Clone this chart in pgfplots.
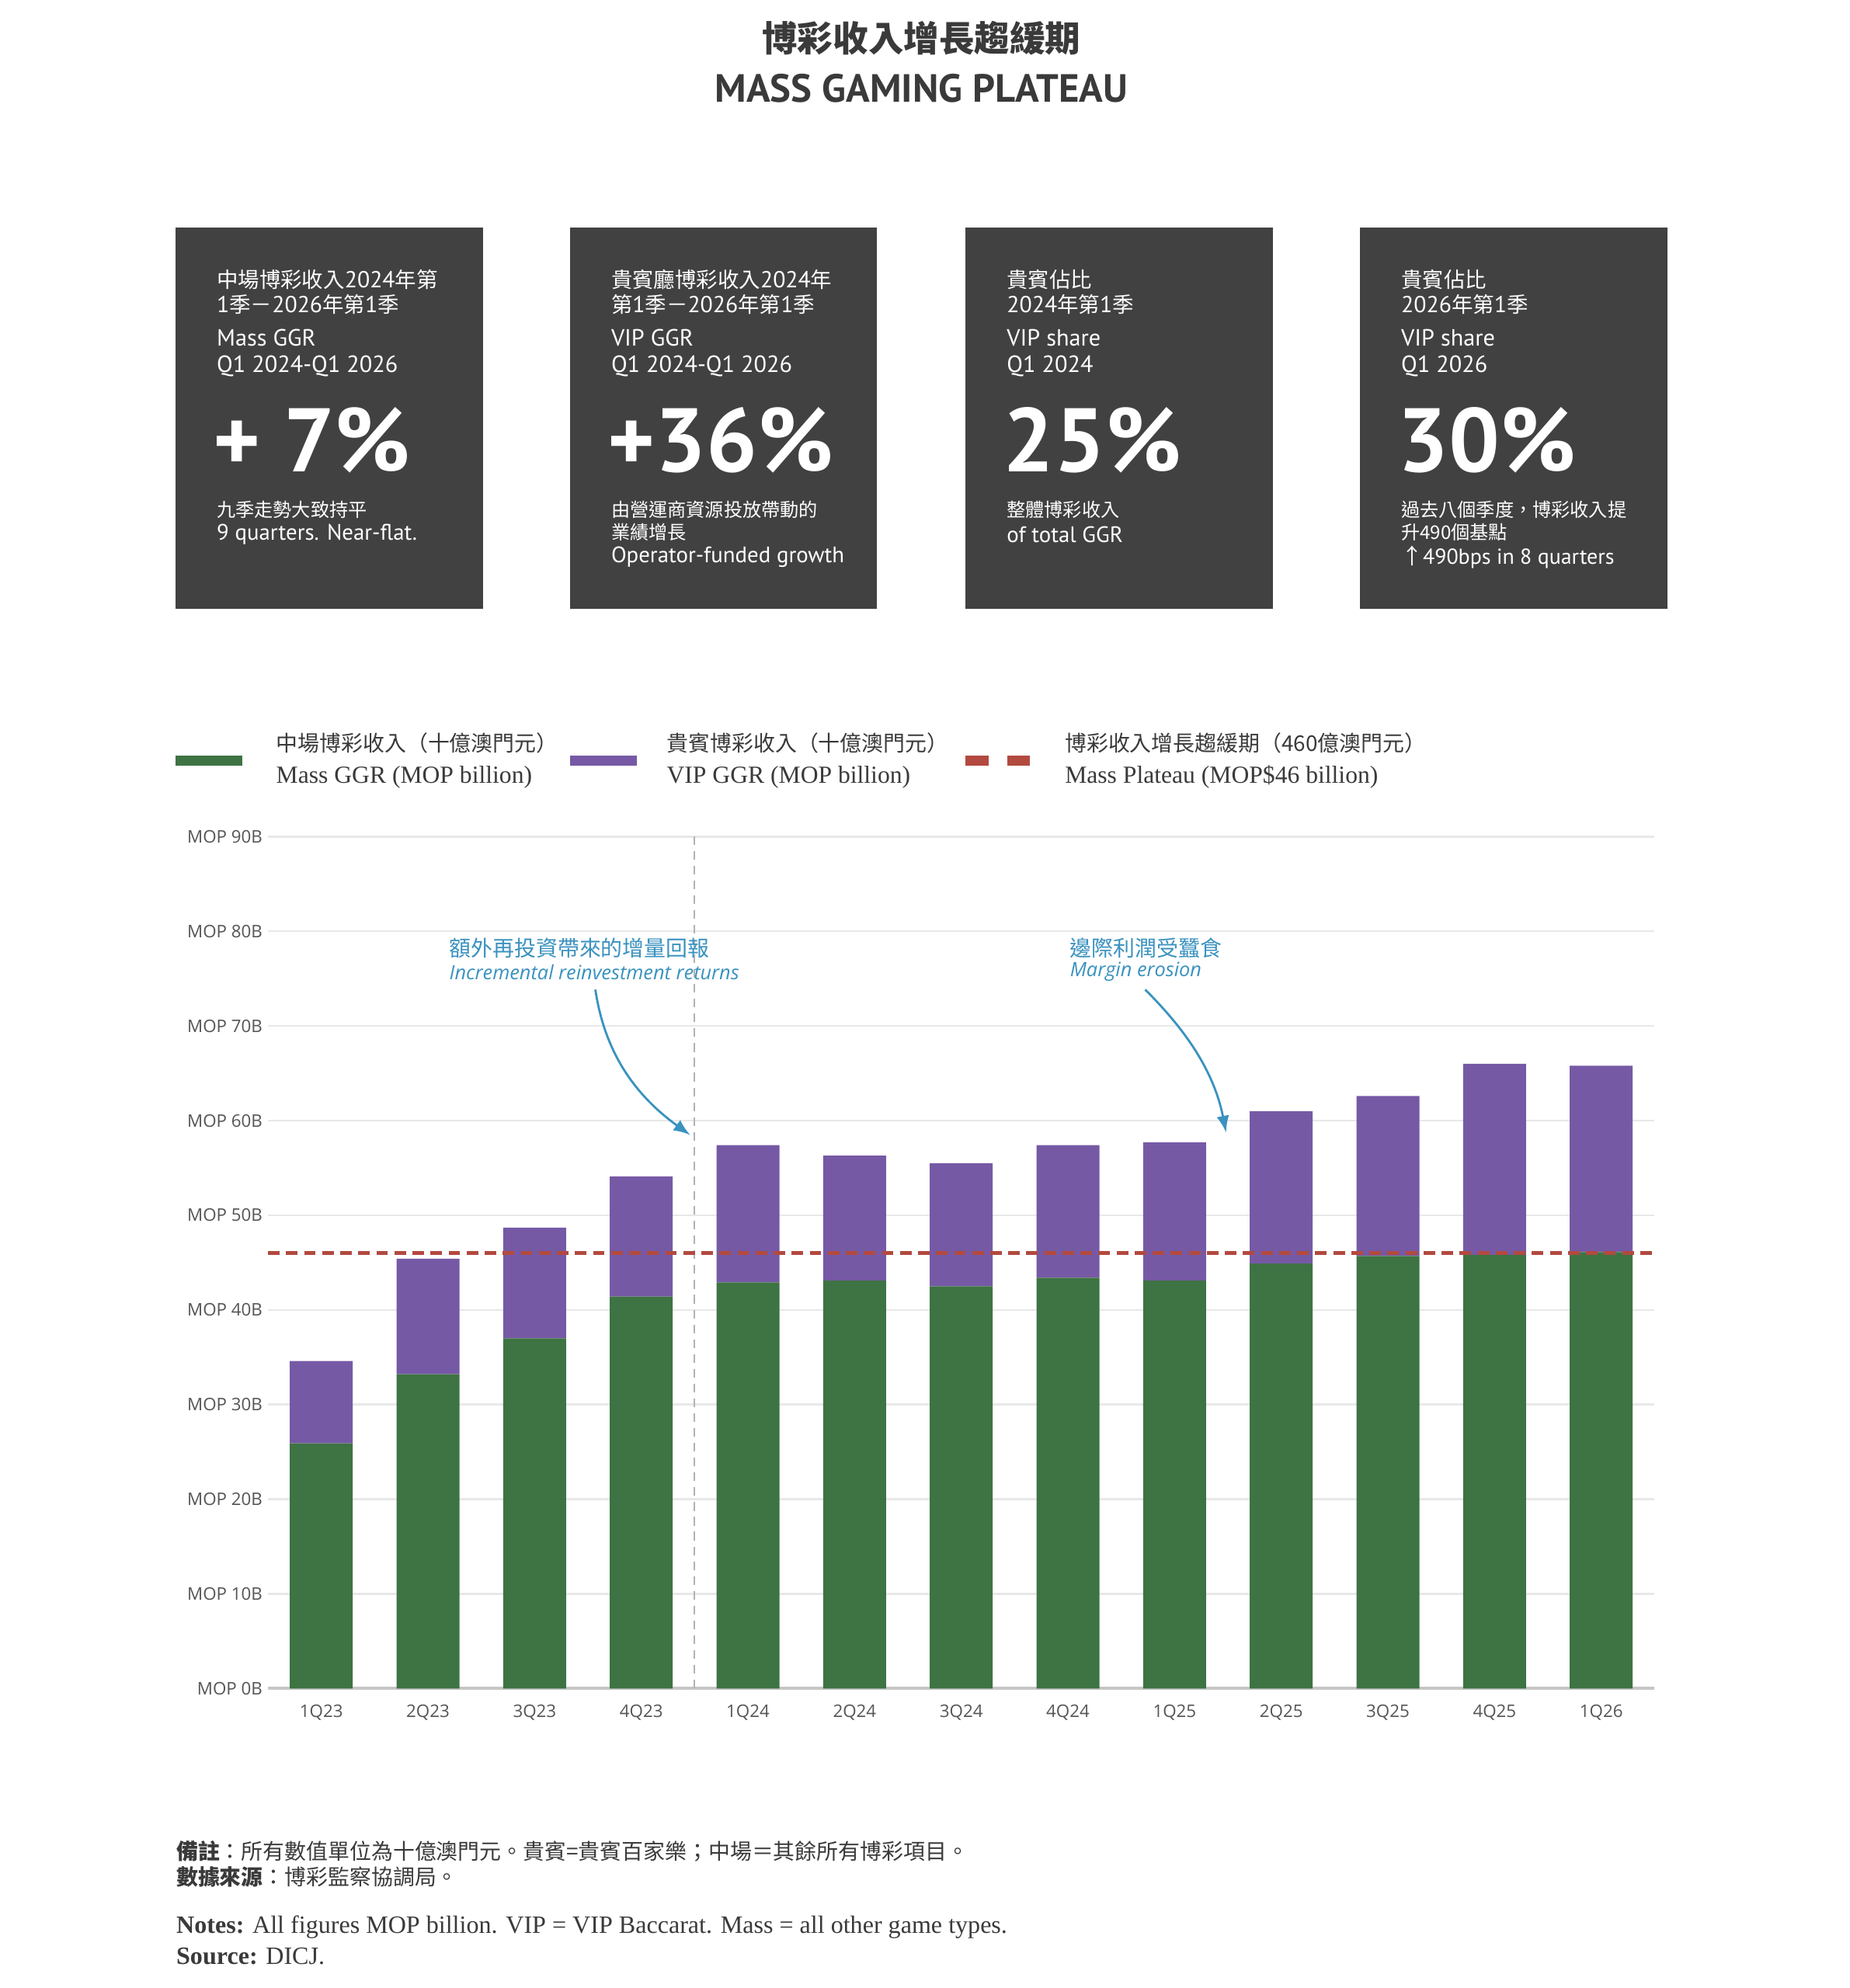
\documentclass[border=0pt]{standalone}
\usepackage{pgfplots}
\pgfplotsset{compat=1.18}
\usepackage{fontspec}
\setmainfont{Liberation Serif}
\newfontfamily\din{PT Sans}
\newfontfamily\cjk{Noto Sans CJK TC}
\newfontfamily\tickf{Open Sans}
\definecolor{massgreen}{HTML}{3E7343}
\definecolor{vippurple}{HTML}{7659A5}
\definecolor{plateau}{HTML}{B24A3F}
\definecolor{cardgray}{HTML}{414142}
\definecolor{annblue}{HTML}{3A92BF}
\definecolor{gridgray}{HTML}{E8E8E8}
\definecolor{tickgray}{HTML}{555555}
\definecolor{txtgray}{HTML}{3A3A3A}
\newcommand\fs[1]{\fontsize{#1}{#1}\selectfont}
\newcommand\cl[4]{\node[anchor=west, inner sep=0, text=white, font=#4] at (#1,#2) {#3};}
\newcommand\lgd[4]{\node[anchor=west, inner sep=0, text=txtgray, font=#4] at (#1,#2) {#3};}
\newcommand\dg[1]{{\din\fs{6.4pt}#1}}
\begin{document}
\begin{tikzpicture}[x=0.35pt,y=-0.35pt]
\path[use as bounding box, fill=white] (0,0) rectangle (1463,1573);
% title
\node[text=txtgray, font=\cjk\bfseries\fs{9.8pt}] at (729,30) {博彩收入增長趨緩期};
\node[text=txtgray, font=\din\bfseries\fs{10.9pt}] at (729,70) {MASS GAMING PLATEAU};
% cards
\foreach \xl in {139,451,764,1076}{\fill[cardgray] (\xl,180) rectangle ++(243,302);}
% card 1
\cl{171}{221}{中場博彩收入\dg{2024}年第}{\cjk\fs{5.9pt}}
\cl{171}{241}{\dg{1}季－\dg{2026}年第\dg{1}季}{\cjk\fs{5.9pt}}
\cl{171}{267}{Mass GGR}{\din\fs{6.5pt}}
\cl{171}{290}{Q1 2024-Q1 2026}{\din\fs{6.5pt}}
\cl{168}{348}{+ 7\%}{\din\bfseries\fs{25pt}}
\cl{171}{403}{九季走勢大致持平}{\cjk\fs{5.2pt}}
\cl{171}{423}{9 quarters. Near-flat.}{\din\fs{6.2pt}}
% card 2
\cl{483}{221}{貴賓廳博彩收入\dg{2024}年}{\cjk\fs{5.9pt}}
\cl{483}{241}{第\dg{1}季－\dg{2026}年第\dg{1}季}{\cjk\fs{5.9pt}}
\cl{483}{267}{VIP GGR}{\din\fs{6.5pt}}
\cl{483}{290}{Q1 2024-Q1 2026}{\din\fs{6.5pt}}
\cl{480}{348}{+36\%}{\din\bfseries\fs{25pt}}
\cl{483}{403}{由營運商資源投放帶動的}{\cjk\fs{5.2pt}}
\cl{483}{421}{業績增長}{\cjk\fs{5.2pt}}
\cl{483}{441}{Operator-funded growth}{\din\fs{6.2pt}}
% card 3
\cl{796}{221}{貴賓佔比}{\cjk\fs{5.9pt}}
\cl{796}{241}{\dg{2024}年第\dg{1}季}{\cjk\fs{5.9pt}}
\cl{796}{267}{VIP share}{\din\fs{6.5pt}}
\cl{796}{290}{Q1 2024}{\din\fs{6.5pt}}
\cl{793}{348}{25\%}{\din\bfseries\fs{25pt}}
\cl{796}{403}{整體博彩收入}{\cjk\fs{5.2pt}}
\cl{796}{423}{of total GGR}{\din\fs{6.2pt}}
% card 4
\cl{1108}{221}{貴賓佔比}{\cjk\fs{5.9pt}}
\cl{1108}{241}{\dg{2026}年第\dg{1}季}{\cjk\fs{5.9pt}}
\cl{1108}{267}{VIP share}{\din\fs{6.5pt}}
\cl{1108}{290}{Q1 2026}{\din\fs{6.5pt}}
\cl{1105}{348}{30\%}{\din\bfseries\fs{25pt}}
\cl{1108}{403}{過去八個季度，博彩收入提}{\cjk\fs{5.2pt}}
\cl{1108}{421}{升490個基點}{\cjk\fs{5.2pt}}
\cl{1108}{441}{{\cjk ↑}490bps in 8 quarters}{\din\fs{6.0pt}}
% legend
\fill[massgreen] (139,598) rectangle (192,606);
\fill[vippurple] (451,598) rectangle (504,606);
\fill[plateau] (764,598) rectangle (782,606);
\fill[plateau] (797,598) rectangle (815,606);
\lgd{218}{588}{中場博彩收入（十億澳門元）}{\cjk\fs{6.0pt}}
\lgd{218}{615}{Mass GGR (MOP billion)}{\fs{6.8pt}}
\lgd{527}{588}{貴賓博彩收入（十億澳門元）}{\cjk\fs{6.0pt}}
\lgd{527}{615}{VIP GGR (MOP billion)}{\fs{6.8pt}}
\lgd{842}{588}{博彩收入增長趨緩期（460億澳門元）}{\cjk\fs{6.0pt}}
\lgd{842}{615}{Mass Plateau (MOP\$46 billion)}{\fs{6.8pt}}
% main axis
\begin{axis}[
  at={(74.2pt,-467.6pt)}, anchor=south west,
  width=383.95pt, height=235.9pt, scale only axis,
  xmin=-0.5, xmax=12.5, ymin=0, ymax=90,
  ybar stacked, bar width=0.59,
  xtick={0,...,12},
  xticklabels={1Q23,2Q23,3Q23,4Q23,1Q24,2Q24,3Q24,4Q24,1Q25,2Q25,3Q25,4Q25,1Q26},
  ytick={0,10,...,90},
  yticklabels={MOP 0B,MOP 10B,MOP 20B,MOP 30B,MOP 40B,MOP 50B,MOP 60B,MOP 70B,MOP 80B,MOP 90B},
  ymajorgrids, grid style={line width=0.5pt, draw=gridgray},
  axis x line*=bottom, axis y line*=left,
  y axis line style={draw=none},
  x axis line style={draw=gray!45, line width=0.8pt},
  major tick length=0pt,
  tick label style={font=\tickf\fs{4.8pt}, text=tickgray},
  yticklabel style={xshift=2pt},
  xticklabel style={yshift=-1pt},
  clip=false,
]
\addplot[fill=massgreen, draw=none] coordinates {
 (0,25.9) (1,33.2) (2,37.0) (3,41.4) (4,42.9) (5,43.1) (6,42.5)
 (7,43.4) (8,43.1) (9,44.9) (10,45.7) (11,45.8) (12,46.1)};
\addplot[fill=vippurple, draw=none] coordinates {
 (0,8.7) (1,12.2) (2,11.7) (3,12.7) (4,14.5) (5,13.2) (6,13.0)
 (7,14.0) (8,14.6) (9,16.1) (10,16.9) (11,20.2) (12,19.7)};
\end{axis}
% overlay axis for reference lines
\begin{axis}[
  at={(74.2pt,-467.6pt)}, anchor=south west,
  width=383.95pt, height=235.9pt, scale only axis,
  xmin=-0.5, xmax=12.5, ymin=0, ymax=90, hide axis, clip=false,
]
\addplot[draw=gray!60, line width=0.4pt, dash pattern=on 2.4pt off 1.7pt] coordinates {(3.5,0) (3.5,90)};
\addplot[draw=plateau, line width=1.1pt, dash pattern=on 3.2pt off 1.8pt] coordinates {(-0.5,46) (12.5,46)};
\end{axis}
% annotations
\node[anchor=west, inner sep=0, text=annblue, font=\cjk\fs{6pt}] at (355,750) {額外再投資帶來的增量回報};
\node[anchor=west, inner sep=0, text=annblue, font=\tickf\itshape\fs{5.45pt}] at (355,769) {Incremental reinvestment returns};
\draw[annblue, line width=0.6pt, -{latex}] (471,783) .. controls (478,830) and (500,865) .. (546,898);
\node[anchor=west, inner sep=0, text=annblue, font=\cjk\fs{6pt}] at (846,750) {邊際利潤受蠶食};
\node[anchor=west, inner sep=0, text=annblue, font=\tickf\itshape\fs{5.45pt}] at (846,769) {Margin erosion};
\draw[annblue, line width=0.6pt, -{latex}] (906,783) .. controls (935,812) and (960,845) .. (970,896);
% notes
\node[anchor=west, inner sep=0, text=txtgray, font=\cjk\fs{6.0pt}] at (139,1465) {\textbf{備註}：所有數值單位為十億澳門元。貴賓=貴賓百家樂；中場＝其餘所有博彩項目。};
\node[anchor=west, inner sep=0, text=txtgray, font=\cjk\fs{6.0pt}] at (139,1485) {\textbf{數據來源}：博彩監察協調局。};
\node[anchor=west, inner sep=0, text=txtgray, font=\fs{6.9pt}] at (139,1525) {\textbf{Notes:} All figures MOP billion. VIP = VIP Baccarat. Mass = all other game types.};
\node[anchor=west, inner sep=0, text=txtgray, font=\fs{6.9pt}] at (139,1548) {\textbf{Source:} DICJ.};
\end{tikzpicture}
\end{document}
